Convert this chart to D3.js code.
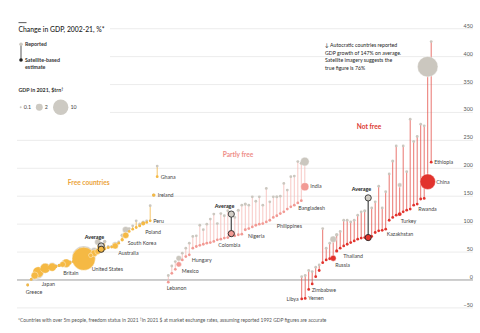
<!DOCTYPE html>
<html><head><meta charset="utf-8">
<script src="https://cdn.jsdelivr.net/npm/d3@7"></script>
<style>
body{margin:0;background:#fff;}
svg{display:block;font-family:Lato,"Open Sans",sans-serif;}
</style></head><body>
<svg id="chart" width="480" height="333"></svg>
<script>
// ---- data: change in GDP 2002-21 (%), reported vs satellite-based, GDP 2021 ($trn) ----
const yTicks = [-50, 0, 50, 100, 150, 200, 250, 300, 350, 400, 450];

const freeNames = ["Greece","","","Japan","","","","","","","","Britain","","","","","United States","","","","","","","","Australia","","","South Korea","","","","","Poland","","Peru","Ireland","Ghana"];
const freeSat = [-9,1,8,14,19,21,22,23,24,26,28,30,31,33,35,36,38,41,44,48,51,56,58,59,61,66,72,80,87,91,94,97,101,103,106,152,185];
const freeRep = [-9,1,6,12,18,21,22,24,25,26,28,30,32,33,35,37,40,42,46,52,68,69,60,60,63,68,80,90,92,97,106,100,103,106,133,152,204];
const freeGdp = [0.21,0.25,2.1,4.9,0.4,4.2,0.6,2.9,0.5,0.45,1.4,3.1,0.6,0.3,0.5,0.4,23,0.3,0.8,2.0,1.6,0.5,0.4,0.3,1.6,0.3,0.5,1.8,0.3,0.2,0.25,0.4,0.68,0.3,0.22,0.5,0.08];
const freeAvg = {rep: 61, sat: 55};

const partNames = ["Lebanon","","","Mexico","","","Hungary","","","","","","","","Colombia","","","","","","","Nigeria","","","","","","","","","Philippines","","","","","","","Bangladesh","India"];
const partSat = [-4,12,19,28,36,42,45,57,60,62,64,66,67,69,72,73,75,76,79,81,82,90,92,95,98,100,101,104,107,112,115,119,122,127,131,134,138,142,167];
const partRep = [8,25,33,39,48,57,66,78,79,98,90,100,109,118,101,119,115,124,112,125,134,136,134,149,141,149,134,164,140,149,149,150,173,161,185,186,212,209,212];
const partGdp = [0.02,0.05,0.05,1.3,0.05,0.06,0.18,0.05,0.04,0.05,0.04,0.05,0.06,0.35,0.31,0.05,0.06,0.04,0.05,0.4,0.05,0.44,0.05,0.06,0.05,0.06,0.04,0.06,0.05,0.3,0.39,0.06,0.05,0.05,0.06,0.06,0.35,0.42,3.2];
const partAvg = {rep: 118, sat: 83};

const notNames = ["Libya","Yemen","Zimbabwe","","","","","","","Russia","Thailand","","","","","","","","","","","","","Kazakhstan","","","","Turkey","","","","","","Rwanda","","China","Ethiopia"];
const notSat = [-34,-33,-17,-7,6,17,31,36,38,39,52,57,61,64,67,70,73,75,76,78,85,88,89,91,107,112,116,118,122,125,127,134,136,145,146,176,211];
const notRep = [6,8,17,15,23,27,92,57,66,73,81,87,107,107,104,107,116,122,124,129,140,168,129,158,190,213,240,170,240,194,288,248,257,279,276,382,427];
const notGdp = [0.04,0.02,0.03,0.03,0.03,0.04,0.05,0.05,0.1,1.8,0.5,0.06,0.05,0.05,0.05,0.05,0.05,0.05,0.4,0.05,0.05,0.05,0.05,0.19,0.05,0.4,0.05,0.8,0.05,0.05,0.05,0.05,0.05,0.01,0.05,17.7,0.11];
const notAvg = {rep: 147, sat: 76};

const legendSizes = [0.1, 2, 10];

// ---- layout ----
const svg = d3.select("#chart");
const y = d3.scaleLinear().domain([-50, 450]).range([307.9, 28.7]);
const rScale = d3.scaleSqrt().domain([0, 10]).range([0, 7.7]);
const rad = v => Math.max(1.4, rScale(v));
const GREY = "#cbc7bf";

// gridlines and value axis
const grid = svg.append("g");
yTicks.forEach(t => {
  grid.append("line")
    .attr("x1", t >= 300 ? 110 : 17).attr("x2", 473)
    .attr("y1", y(t)).attr("y2", y(t))
    .attr("stroke", t === 0 ? "#9c9c9c" : "#e4e4e4")
    .attr("stroke-width", t === 0 ? 1 : 0.7);
});
const axis = d3.axisRight(y).tickValues(yTicks).tickSize(0).tickPadding(0);
const axG = svg.append("g").attr("transform", "translate(473,-3.2)").call(axis);
axG.select(".domain").remove();
axG.selectAll("text").attr("text-anchor", "end").attr("font-size", 5.4).attr("fill", "#555").attr("font-family", "Lato");

const groups = [
  {names: freeNames, sat: freeSat, rep: freeRep, gdp: freeGdp, avg: freeAvg, avgSlot: 21, range: [27.7, 157.2],
   dot: "#f5b944", line: "#f2b544", title: "Free countries", titleColor: "#eba33a", titlePos: [88.7, 185],
   labels: {"Greece":[-2,8.5],"Japan":[3.5,14],"Britain":[-3,12],"United States":[8,12.5],"Australia":[3,9.4],"South Korea":[2,9.4],"Poland":[2,10],"Peru":[3,2.2],"Ireland":[4,2],"Ghana":[3.5,2]}},
  {names: partNames, sat: partSat, rep: partRep, gdp: partGdp, avg: partAvg, avgSlot: 18, range: [168.3, 304.8],
   dot: "#f29a94", line: "#f5bab6", title: "Partly free", titleColor: "#ee8d88", titlePos: [238, 156.5],
   labels: {"Lebanon":[-1.6,8],"Mexico":[3,8.6],"Hungary":[2.5,7],"Colombia":[1,7.2],"Nigeria":[2.7,8.3],"Philippines":[0,12],"Bangladesh":[-3,9.6],"India":[5.5,1.6]}},
  {names: notNames, sat: notSat, rep: notRep, gdp: notGdp, avg: notAvg, avgSlot: 19, range: [301.7, 431.2],
   dot: "#e2332d", line: "#e5514a", title: "Not free", titleColor: "#dc3a32", titlePos: [369, 129],
   labels: {"Libya":[-3,2,"end"],"Yemen":[3,2],"Zimbabwe":[3,2.5],"Russia":[2,9],"Thailand":[6.5,7],"Kazakhstan":[1,7],"Turkey":[1,8.6],"Rwanda":[-2.5,12],"China":[8.5,2],"Ethiopia":[3,2]}}
];

groups.forEach(g => {
  const n = g.sat.length;
  const x = d3.scaleLinear().domain([0, n]).range(g.range);
  const rows = g.sat.map((s, i) => ({
    name: g.names[i], sat: s, rep: g.rep[i], gdp: g.gdp[i],
    x: x(i < g.avgSlot ? i : i + 1),
    rRep: rad(g.gdp[i]),
    rSat: rad(g.gdp[i] * (100 + s) / (100 + g.rep[i]))
  }));
  g.rows = rows; g.x = x;
});

// connecting stems
groups.forEach(g => {
  svg.append("g").selectAll("line").data(g.rows.filter(d => Math.abs(y(d.rep) - y(d.sat)) > 1.5)).join("line")
    .attr("x1", d => d.x).attr("x2", d => d.x)
    .attr("y1", d => y(d.rep)).attr("y2", d => y(d.sat))
    .attr("stroke", g.line).attr("stroke-width", 0.8);
});
// reported values
groups.forEach(g => {
  svg.append("g").selectAll("circle").data(g.rows.slice().sort((a, b) => b.rRep - a.rRep)).join("circle")
    .attr("cx", d => d.x).attr("cy", d => y(d.rep)).attr("r", d => d.rRep)
    .attr("fill", GREY).attr("stroke", "#fff").attr("stroke-width", d => d.rRep > 2 ? 0.4 : 0);
});
// satellite-based estimates
groups.forEach(g => {
  svg.append("g").selectAll("circle").data(g.rows.slice().sort((a, b) => b.rSat - a.rSat)).join("circle")
    .attr("cx", d => d.x).attr("cy", d => y(d.sat)).attr("r", d => d.rSat)
    .attr("fill", g.dot).attr("stroke", "#fff").attr("stroke-width", d => d.rSat > 2 ? 0.4 : 0);
});
// group averages
groups.forEach(g => {
  const ax = g.x(g.avgSlot);
  const a = svg.append("g");
  a.append("line").attr("x1", ax).attr("x2", ax).attr("y1", y(g.avg.rep)).attr("y2", y(g.avg.sat))
    .attr("stroke", "#555").attr("stroke-width", 1.3);
  a.append("circle").attr("cx", ax).attr("cy", y(g.avg.rep)).attr("r", 3.1)
    .attr("fill", "#d2cec6").attr("stroke", "#333").attr("stroke-width", 0.9);
  a.append("circle").attr("cx", ax).attr("cy", y(g.avg.sat)).attr("r", 3.1)
    .attr("fill", g.dot).attr("stroke", "#222").attr("stroke-width", 0.9);
  a.append("text").attr("x", ax + 3).attr("y", y(g.avg.rep) - 6.5).attr("text-anchor", "end")
    .attr("font-size", 5.4).attr("font-weight", 700).attr("fill", "#222").text("Average");
});
// country labels
groups.forEach(g => {
  svg.append("g").selectAll("text").data(g.rows.filter(d => d.name)).join("text")
    .attr("x", d => d.x + g.labels[d.name][0])
    .attr("y", d => y(d.sat) + g.labels[d.name][1])
    .attr("text-anchor", d => g.labels[d.name][2] || "start")
    .attr("font-size", 5.3).attr("fill", "#444").text(d => d.name);
  svg.append("text").attr("x", g.titlePos[0]).attr("y", g.titlePos[1]).attr("text-anchor", "middle")
    .attr("font-size", 6.6).attr("font-weight", 700).attr("fill", g.titleColor).text(g.title);
});

// annotation
const note = ["\u2193 Autocratic countries reported", "GDP growth of 147% on average.", "Satellite imagery suggests the", "true figure is 76%"];
svg.append("g").selectAll("text").data(note).join("text")
  .attr("x", 325).attr("y", (d, i) => 47 + i * 7.6)
  .attr("font-size", 5.2).attr("fill", "#222").text(d => d);

// title and legend
svg.append("rect").attr("x", 18.5).attr("y", 22.3).attr("width", 8).attr("height", 0.8).attr("fill", "#333");
svg.append("text").attr("x", 18.5).attr("y", 31.5).attr("font-size", 6.8).attr("fill", "#222").attr("font-weight", 500)
  .text("Change in GDP, 2002-21, %*");
const lg = svg.append("g");
lg.append("line").attr("x1", 21).attr("x2", 21).attr("y1", 44.3).attr("y2", 60).attr("stroke", "#666").attr("stroke-width", 1.1);
lg.append("circle").attr("cx", 21).attr("cy", 44.3).attr("r", 1.8).attr("fill", GREY);
lg.append("circle").attr("cx", 21).attr("cy", 60).attr("r", 1.8).attr("fill", "#222");
[["Reported", 46.2], ["Satellite-based", 62], ["estimate", 68.8]].forEach(([t, yy]) =>
  lg.append("text").attr("x", 25).attr("y", yy).attr("font-size", 5.3).attr("font-weight", 700).attr("fill", "#333").text(t));
const gl = lg.append("text").attr("x", 18.5).attr("y", 92).attr("font-size", 5.3).attr("font-weight", 700).attr("fill", "#333");
gl.append("tspan").text("GDP in 2021, $trn");
gl.append("tspan").attr("font-size", 3.6).attr("dy", -2).text("\u2020");
const lx = [20.7, 39.3, 60.7];
legendSizes.forEach((v, i) => {
  lg.append("circle").attr("cx", lx[i]).attr("cy", 107.2).attr("r", Math.max(1, rScale(v))).attr("fill", "#cdcac3");
  lg.append("text").attr("x", lx[i] + Math.max(1, rScale(v)) + 2).attr("y", 109.1).attr("font-size", 5.3).attr("fill", "#444").text(v);
});

// footnote
const fn = svg.append("text").attr("x", 18).attr("y", 322).attr("font-size", 4.9).attr("fill", "#555");
fn.append("tspan").text("*Countries with over 5m people, freedom status in 2021 ");
fn.append("tspan").attr("font-size", 3.4).attr("dy", -1.8).text("\u2020");
fn.append("tspan").attr("dy", 1.8).text("In 2021 $ at market exchange rates, assuming reported 1992 GDP figures are accurate");
</script>
</body></html>
